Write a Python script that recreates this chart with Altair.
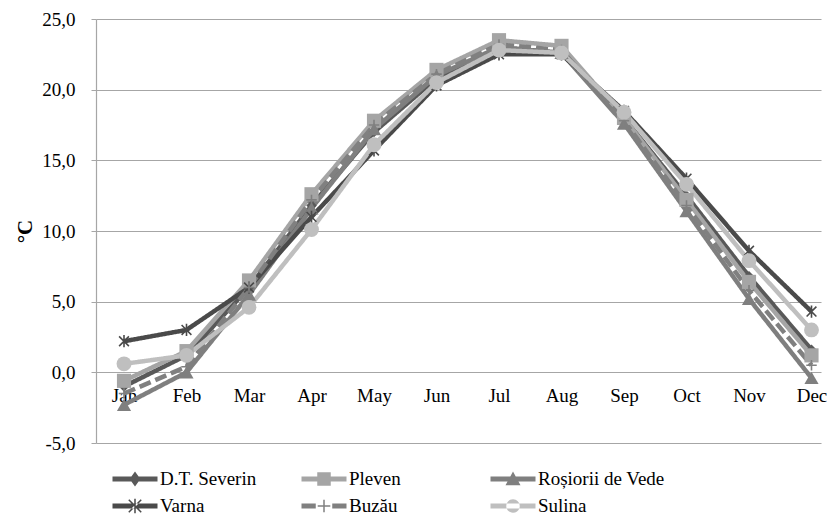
import json
import altair as alt
import pandas as pd

months = ["Jan", "Feb", "Mar", "Apr", "May", "Jun", "Jul", "Aug", "Sep", "Oct", "Nov", "Dec"]
series_names = ["D.T. Severin", "Pleven", "Roșiorii de Vede", "Varna", "Buzău", "Sulina"]
legend_order = ["D.T. Severin", "Varna", "Pleven", "Buzău", "Roșiorii de Vede", "Sulina"]

dt_severin = [-1.0, 1.2, 6.0, 11.8, 17.0, 20.8, 23.0, 22.6, 18.0, 12.5, 6.8, 1.6]
pleven = [-0.6, 1.5, 6.5, 12.6, 17.8, 21.4, 23.5, 23.1, 18.0, 12.2, 6.4, 1.2]
rosiorii = [-2.3, 0.0, 5.5, 11.6, 17.2, 21.0, 23.0, 22.6, 17.6, 11.4, 5.2, -0.4]
varna = [2.2, 3.0, 6.0, 11.0, 15.7, 20.3, 22.5, 22.5, 18.5, 13.7, 8.6, 4.3]
buzau = [-1.5, 0.4, 6.0, 12.2, 17.5, 21.1, 23.2, 22.8, 17.8, 11.8, 5.8, 0.5]
sulina = [0.6, 1.2, 4.6, 10.1, 16.1, 20.5, 22.8, 22.6, 18.4, 13.3, 7.9, 3.0]

colors = ["#595959", "#a5a5a5", "#7f7f7f", "#4a4a4a", "#808080", "#bfbfbf"]
dashes = [[1, 0], [1, 0], [1, 0], [1, 0], [12, 5], [1, 0]]
point_shapes = [
    "diamond",
    "square",
    "triangle-up",
    "M-0.8,-0.8L0.8,0.8M-0.8,0.8L0.8,-0.8M0,-1L0,1",
    "M-1,0L1,0M0,-1L0,1",
    "circle",
]
point_filled = [True, True, True, False, False, True]
point_sizes = [110, 200, 200, 150, 110, 220]

LINE = "M-1.5,-0.16L1.5,-0.16L1.5,0.16L-1.5,0.16Z"
legend_paths = [
    LINE + "M0,-0.5L0.36,0L0,0.5L-0.36,0Z",
    LINE + "M-0.45,-0.45L0.45,-0.45L0.45,0.45L-0.45,0.45Z",
    LINE + "M0,-0.5L0.5,0.42L-0.5,0.42Z",
    LINE + "M-0.05,-0.48L0.05,-0.48L0.05,0.48L-0.05,0.48Z"
    "M-0.45,-0.38L-0.38,-0.45L0.45,0.38L0.38,0.45Z"
    "M0.45,-0.38L0.38,-0.45L-0.45,0.38L-0.38,0.45Z",
    "M-1.5,-0.16L-0.55,-0.16L-0.55,0.16L-1.5,0.16Z"
    "M1.5,-0.16L0.55,-0.16L0.55,0.16L1.5,0.16Z"
    "M-0.42,-0.05L0.42,-0.05L0.42,0.05L-0.42,0.05Z"
    "M-0.05,-0.42L0.05,-0.42L0.05,0.42L-0.05,0.42Z",
    LINE + "M-0.45,0A0.45,0.45 0 1,0 0.45,0A0.45,0.45 0 1,0 -0.45,0Z",
]

values = [dt_severin, pleven, rosiorii, varna, buzau, sulina]
rows = []
for name, vals in zip(series_names, values):
    for i, v in enumerate(vals):
        rows.append({"series": name, "m": i + 1, "t": v})
df = pd.DataFrame(rows)

FONT = "Liberation Serif, Times New Roman, serif"
month_expr = json.dumps(months) + "[datum.value - 1]"

x_enc = alt.X(
    "m:Q",
    scale=alt.Scale(domain=[0.552, 12.152], nice=False, zero=False),
    axis=alt.Axis(
        values=list(range(1, 13)),
        labelExpr=month_expr,
        grid=False,
        ticks=False,
        domain=False,
        offset=-70.7,
        labelPadding=14,
        labelFont=FONT,
        labelFontSize=19,
        labelColor="#000000",
        title=None,
    ),
)
y_enc = alt.Y(
    "t:Q",
    scale=alt.Scale(domain=[-5, 25], nice=False),
    axis=alt.Axis(
        values=[-5, 0, 5, 10, 15, 20, 25],
        labelExpr="replace(replace(format(datum.value, '.1f'), '.', ','), '\u2212', '-')",
        grid=True,
        gridColor="#a6a6a6",
        gridWidth=1.2,
        domainColor="#a6a6a6",
        domainWidth=1.2,
        tickColor="#a6a6a6",
        tickSize=5,
        labelPadding=16,
        labelFont=FONT,
        labelFontSize=19,
        labelColor="#000000",
        title="°C",
        titleFont=FONT,
        titleFontSize=21,
        titleFontWeight="bold",
        titleColor="#000000",
        titlePadding=6,
    ),
)

base = alt.Chart(df)
layers = []
for i, name in enumerate(series_names):
    sub = base.transform_filter(alt.datum.series == name)
    layers.append(
        sub.mark_line(
            color=colors[i], strokeWidth=4.5, strokeDash=dashes[i]
        ).encode(x=x_enc, y=y_enc)
    )
for i, name in enumerate(series_names):
    sub = base.transform_filter(alt.datum.series == name)
    if point_filled[i]:
        mk = sub.mark_point(
            shape=point_shapes[i], filled=True, color=colors[i],
            size=point_sizes[i], opacity=1,
        )
    else:
        mk = sub.mark_point(
            shape=point_shapes[i], filled=False, color=colors[i],
            size=point_sizes[i], strokeWidth=1.6, opacity=1,
        )
    layers.append(mk.encode(x=x_enc, y=y_enc))


def make_legend():
    return alt.Legend(
        title=None,
        orient="none",
        legendX=24,
        legendY=445,
        columns=3,
        values=legend_order,
        gridAlign="all",
        columnPadding=14,
        rowPadding=2,
        labelFont=FONT,
        labelFontSize=19,
        labelColor="#000000",
        labelOffset=10,
        symbolSize=900,
        symbolStrokeWidth=0,
    )


legend_layer = base.transform_filter("datum.t > 999").mark_point(
    filled=True, opacity=1
).encode(
    x=x_enc,
    y=y_enc,
    color=alt.Color(
        "series:N",
        scale=alt.Scale(domain=series_names, range=colors),
        legend=make_legend(),
    ),
    shape=alt.Shape(
        "series:N",
        scale=alt.Scale(domain=series_names, range=legend_paths),
        legend=make_legend(),
    ),
)
layers.append(legend_layer)

chart = alt.layer(*layers).properties(
    width=725,
    height=424,
    autosize=alt.AutoSizeParams(type="none"),
    padding={"left": 88, "top": 11, "right": 6, "bottom": 78},
    background="#ffffff",
).configure(font=FONT).configure_view(stroke=None)

chart.save("out.html", embed_options={"renderer": "svg", "actions": False})
